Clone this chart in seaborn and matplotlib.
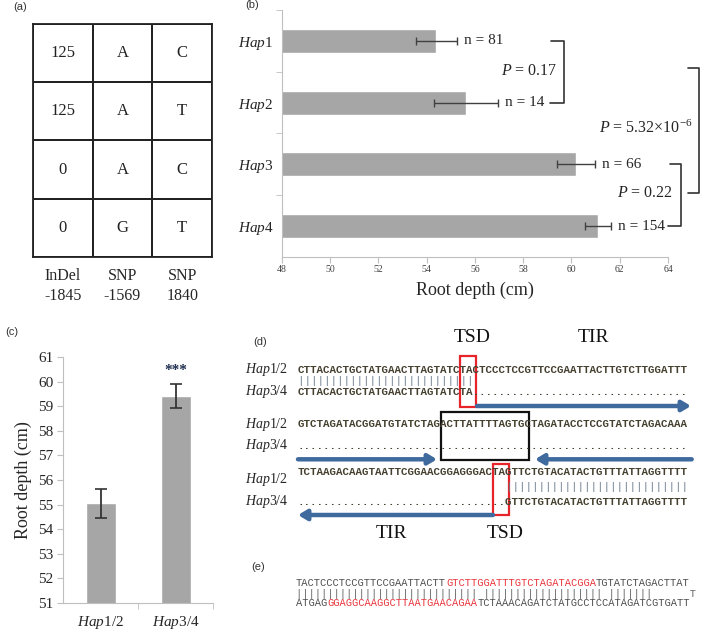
"""Root depth haplotype figure: table, bar charts and sequence alignments."""

import matplotlib

matplotlib.use("Agg")
import matplotlib.pyplot as plt
import numpy as np
import pandas as pd
import seaborn as sns
from matplotlib.colors import ListedColormap
from matplotlib.patches import Rectangle

# (a) haplotype table
indel_1845 = ["125", "125", "0", "0"]
snp_1569 = ["A", "A", "A", "G"]
snp_1840 = ["C", "T", "C", "T"]
marker_labels = ["InDel\n-1845", "SNP\n-1569", "SNP\n1840"]

# (b) root depth per haplotype
haps = ["Hap1", "Hap2", "Hap3", "Hap4"]
hap_depth = [54.4, 55.63, 60.18, 61.09]
hap_err = [0.85, 1.33, 0.78, 0.54]
hap_n = [81, 14, 66, 154]

# (c) pooled haplotypes
groups = ["Hap1/2", "Hap3/4"]
group_depth = [55.05, 59.41]
group_err = [0.58, 0.48]

# (d) alignment around the insertion
d_rows = [
    ("CTTACACTGCTATGAACTTAGTATCTACTCCCTCCGTTCCGAATTACTTGTCTTGGATTT",
     "CTTACACTGCTATGAACTTAGTATCTA" + "." * 33),
    ("GTCTAGATACGGATGTATCTAGACTTATTTTAGTGCTAGATACCTCCGTATCTAGACAAA",
     "." * 60),
    ("TCTAAGACAAGTAATTCGGAACGGAGGGACTAGTTCTGTACATACTGTTTATTAGGTTTT",
     "." * 32 + "GTTCTGTACATACTGTTTATTAGGTTTT"),
]

# (e) TIR pairing
e_top = [("TACTCCCTCCGTTCCGAATTACTT", "k"), ("GTCTTGGATTTGTCTAGATACGGA", "r"),
         ("TGTATCTAGACTTAT", "k")]
e_mid = "|" * 29 + " " + "|" * 19 + " " + "|" * 7 + " " * 6 + "T"
e_bot = [("ATGAG", "k"), ("GGAGGCAAGGCTTAATGAACAGAA", "r"),
         ("TCTAAACAGATCTATGCCTCCATAGATCGTGATT", "k")]

W, H = 709, 633
BAR = "#a6a6a6"
AXIS = "#bfbfbf"
INK = "#222222"
SEQ = "#45402f"
BLUE = "#3e6a9e"
RED = "#e8333a"

sns.set_style("ticks")
plt.rcParams["font.family"] = ["Liberation Serif", "DejaVu Serif"]
plt.rcParams["mathtext.fontset"] = "custom"
plt.rcParams["mathtext.rm"] = "Liberation Serif"
plt.rcParams["mathtext.it"] = "Liberation Serif:italic"


def hap_tex(name):
    return r"$\mathit{Hap}$" + name[3:]


fig = plt.figure(figsize=(W / 100, H / 100), dpi=100)


def px_axes(x0, y0, x1, y1):
    return fig.add_axes([x0 / W, 1 - y1 / H, (x1 - x0) / W, (y1 - y0) / H])


# ---- (a) table
ax_a = px_axes(33, 24, 212, 257)
table = np.array([indel_1845, snp_1569, snp_1840]).T
sns.heatmap(np.zeros(table.shape), annot=table, fmt="",
            cmap=ListedColormap(["white"]), cbar=False,
            linewidths=1.3, linecolor=INK,
            annot_kws={"fontsize": 12, "color": INK},
            xticklabels=marker_labels, yticklabels=False, ax=ax_a)
ax_a.tick_params(axis="x", length=0, pad=8, labelsize=11.5, labelrotation=0)
for t in ax_a.get_xticklabels():
    t.set_linespacing(1.35)
for s in ax_a.spines.values():
    s.set_visible(True)
    s.set_color(INK)
    s.set_linewidth(1.3)

# ---- (b) horizontal bars
ax_b = px_axes(281.7, 10, 668, 257)
df_b = pd.DataFrame({"hap": haps, "depth": hap_depth})
sns.barplot(data=df_b, x="depth", y="hap", orient="h", color=BAR, width=0.39,
            saturation=1, errorbar=None, ax=ax_b)
ypos = np.arange(len(haps))
ax_b.errorbar(hap_depth, ypos, xerr=hap_err, fmt="none", ecolor="#404040",
              elinewidth=1, capsize=3, capthick=1)
ax_b.set_xlim(48, 64)
ax_b.set_ylim(3.5, -0.5)
ax_b.set_xticks(np.arange(48, 65, 2))
ax_b.set_yticks(ypos)
ax_b.set_yticklabels([hap_tex(h) for h in haps])
ax_b.set_yticks(np.arange(-0.5, 3.5, 1), minor=True)
ax_b.tick_params(axis="y", which="major", length=0, pad=6, labelsize=11)
ax_b.tick_params(axis="y", which="minor", length=4, color=AXIS, left=True)
ax_b.tick_params(axis="x", length=4, color=AXIS, labelsize=7,
                 labelcolor="#404040", pad=2)
sns.despine(ax=ax_b)
for side in ("left", "bottom"):
    ax_b.spines[side].set_color(AXIS)
ax_b.set_xlabel("Root depth (cm)", fontsize=13, labelpad=5)
ax_b.set_ylabel("")
for i, (d, e, n) in enumerate(zip(hap_depth, hap_err, hap_n)):
    ax_b.text(d + e + 0.3, i, f"n = {n}", fontsize=11, va="center")

bk = dict(color="#333333", lw=1.2, clip_on=False)
ax_b.plot([59.15, 59.7, 59.7, 59.1], [0, 0, 1, 1], **bk)
ax_b.text(59.4, 0.48, r"$P$ = 0.17", fontsize=11.5, ha="right", va="center")
ax_b.plot([64.1, 64.53, 64.53, 64.02], [2, 2, 3, 3], **bk)
ax_b.text(64.2, 2.46, r"$P$ = 0.22", fontsize=11.5, ha="right", va="center")
ax_b.plot([64.83, 65.28, 65.28, 64.83], [0.44, 0.44, 2.46, 2.46], **bk)
ax_b.text(65.04, 1.41, r"$P$ = 5.32×10$^{-6}$", fontsize=11.5, ha="right",
          va="center")

# ---- (c) pooled bars
ax_c = px_axes(63, 357, 213, 603)
df_c = pd.DataFrame({"group": groups, "depth": group_depth})
sns.barplot(data=df_c, x="group", y="depth", color=BAR, width=0.4,
            saturation=1, errorbar=None, ax=ax_c)
ax_c.errorbar(np.arange(len(groups)), group_depth, yerr=group_err, fmt="none",
              ecolor="#333333", elinewidth=1.3, capsize=4, capthick=1.2)
ax_c.set_ylim(51, 61)
ax_c.set_xlim(-0.5, 1.5)
ax_c.set_yticks(np.arange(51, 62, 1))
ax_c.set_xticks(range(len(groups)))
ax_c.set_xticklabels([hap_tex(g) for g in groups])
ax_c.set_xticks([0.5, 1.5], minor=True)
ax_c.tick_params(axis="x", which="major", length=0, pad=8, labelsize=11)
ax_c.tick_params(axis="x", which="minor", length=4, color=AXIS, bottom=True)
ax_c.tick_params(axis="y", length=4, color=AXIS, labelsize=11, pad=3)
sns.despine(ax=ax_c)
for side in ("left", "bottom"):
    ax_c.spines[side].set_color(AXIS)
ax_c.set_xlabel("")
ax_c.set_ylabel("Root depth (cm)", fontsize=13, labelpad=4)
ax_c.text(1, group_depth[1] + group_err[1] + 0.55, "***", ha="center",
          va="center", fontsize=11, color="#1f3050", fontweight="bold")

# ---- (d), (e) and panel labels on a pixel overlay
ax_t = fig.add_axes([0, 0, 1, 1])
ax_t.set_xlim(0, W)
ax_t.set_ylim(H, 0)
ax_t.axis("off")

for lab, (x, y) in zip(["(a)", "(b)", "(c)", "(d)", "(e)"],
                       [(20, 7), (252, 5), (12, 332), (260, 342), (258, 567)]):
    ax_t.text(x, y, lab, fontsize=8, family="Liberation Sans", ha="center",
              va="center", color="#333333")

cw_d, x0_d = 6.55, 298
mono_d = dict(family="Liberation Mono", fontweight="bold",
              fontsize=cw_d / 0.6 * 0.72, va="center", ha="left")
blocks = [(370, 370, 381, 391.7), (424.3, 424.3, None, 445.7),
          (471.7, 480, 487.3, 501.7)]
for (a, b), (ya, yla, ybar, yb) in zip(d_rows, blocks):
    ax_t.text(x0_d, ya, a, color=SEQ, **mono_d)
    ax_t.text(x0_d, yb, b, color=SEQ, **mono_d)
    ax_t.text(245, yla, hap_tex("Hap1/2"), fontsize=10, va="center")
    ax_t.text(245, yb, hap_tex("Hap3/4"), fontsize=10, va="center")
    bars = "".join("|" if p == q else " " for p, q in zip(a, b))
    if ybar is not None and bars.strip():
        ax_t.text(x0_d, ybar, bars, color="#6b7b8c",
                  **{**mono_d, "fontweight": "normal"})


def char_box(ax, i0, i1, y0, y1, color):
    ax.add_patch(Rectangle((x0_d + i0 * cw_d - 1.5, y0),
                           (i1 - i0) * cw_d + 3, y1 - y0,
                           fill=False, ec=color, lw=1.6))


char_box(ax_t, 25, 27, 356, 406.5, "#e8242b")
char_box(ax_t, 22, 35, 411.7, 460, "#111111")
char_box(ax_t, 30, 32, 464.3, 515, "#e8242b")

arrow = dict(arrowstyle="-|>,head_length=0.5,head_width=0.3", lw=3.2,
             color=BLUE, shrinkA=0, shrinkB=0)
for start, end in [((477, 406), (691, 406)), ((298, 459.3), (437, 459.3)),
                   ((691.7, 459.3), (535, 459.3)), ((493, 515), (298, 515))]:
    ax_t.annotate("", xy=end, xytext=start, arrowprops=arrow)

for txt, x, y in [("TSD", 471.7, 338), ("TIR", 593, 338),
                  ("TIR", 391.7, 533), ("TSD", 505, 533)]:
    ax_t.text(x, y, txt, fontsize=14, ha="center", va="center", color="#111111")

cw_e, x0_e = 6.25, 296
mono_e = dict(family="Liberation Mono", fontsize=cw_e / 0.6 * 0.72,
              va="center", ha="left")
tone = {"k": "#4d4d4d", "r": RED}
for parts, y in [(e_top, 583.3), (e_bot, 603.3)]:
    i = 0
    for s, c in parts:
        ax_t.text(x0_e + i * cw_e, y, s, color=tone[c], **mono_e)
        i += len(s)
ax_t.text(x0_e, 594, e_mid, color="#666666", **mono_e)

fig.savefig("out.png", dpi=100)
plt.close(fig)
